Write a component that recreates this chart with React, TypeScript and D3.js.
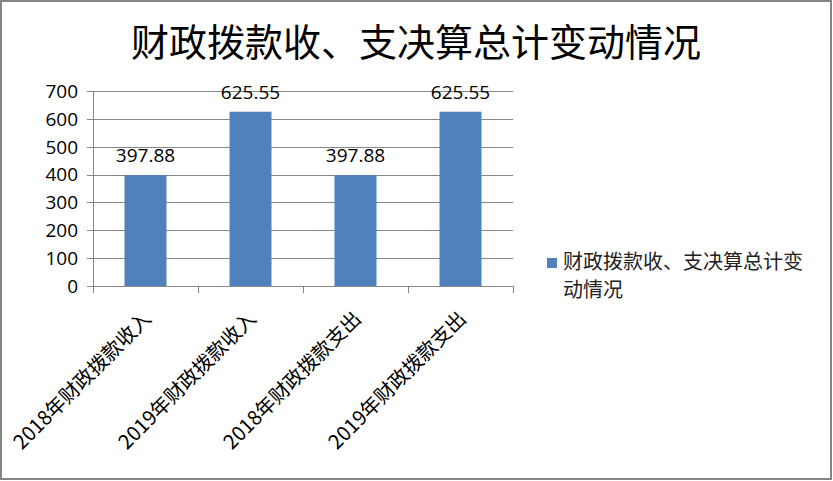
import * as d3 from "d3";
import { useRef, useEffect } from "react";

const title = "财政拨款收、支决算总计变动情况";
const categories = [
  "2018年财政拨款收入",
  "2019年财政拨款收入",
  "2018年财政拨款支出",
  "2019年财政拨款支出",
];
const values = [397.88, 625.55, 397.88, 625.55];
const yTicks = [0, 100, 200, 300, 400, 500, 600, 700];
const legendLines = ["财政拨款收、支决算总计变", "动情况"];

const W = 833;
const H = 481;
const plot = { left: 93, right: 513, top: 91, bottom: 286 };
const barColor = "#4F81BD";
const gridColor = "#868686";
const latin = "'Open Sans', 'Noto Sans', sans-serif";
const cjk = "'Noto Sans CJK SC', sans-serif";

function draw(svgEl: SVGSVGElement | null) {
  const svg = d3.select(svgEl);
  svg.selectAll("*").remove();

  const x = d3
    .scaleBand<string>()
    .domain(categories)
    .range([plot.left, plot.right])
    .paddingInner(0.6)
    .paddingOuter(0.3);
  const y = d3.scaleLinear().domain([0, 700]).range([plot.bottom, plot.top]);

  // outer frame
  svg
    .append("rect")
    .attr("x", 1)
    .attr("y", 1)
    .attr("width", W - 3)
    .attr("height", H - 3)
    .attr("fill", "#fff")
    .attr("stroke", gridColor)
    .attr("stroke-width", 2);

  // title
  svg
    .append("text")
    .attr("x", 416)
    .attr("y", 56)
    .attr("text-anchor", "middle")
    .attr("font-family", cjk)
    .attr("font-size", 38)
    .attr("fill", "#000")
    .text(title);

  // gridlines
  svg
    .append("g")
    .selectAll("line")
    .data(yTicks)
    .join("line")
    .attr("x1", plot.left - 6)
    .attr("x2", plot.right)
    .attr("y1", (d) => Math.round(y(d)) + 0.5)
    .attr("y2", (d) => Math.round(y(d)) + 0.5)
    .attr("stroke", gridColor);

  // y axis line
  svg
    .append("line")
    .attr("x1", plot.left + 0.5)
    .attr("x2", plot.left + 0.5)
    .attr("y1", plot.top)
    .attr("y2", plot.bottom)
    .attr("stroke", gridColor);

  // y tick labels
  svg
    .append("g")
    .selectAll("text")
    .data(yTicks)
    .join("text")
    .attr("x", plot.left - 15)
    .attr("y", (d) => y(d))
    .attr("dy", "0.36em")
    .attr("text-anchor", "end")
    .attr("font-family", latin)
    .attr("font-size", 19)
    .attr("fill", "#000")
    .text((d) => d);

  // category tick marks at band edges
  const edges = [plot.left, ...categories.map((c) => x(c)! + x.step() * 0.7)];
  svg
    .append("g")
    .selectAll("line")
    .data(edges)
    .join("line")
    .attr("x1", (d) => Math.round(d) + 0.5)
    .attr("x2", (d) => Math.round(d) + 0.5)
    .attr("y1", plot.bottom)
    .attr("y2", plot.bottom + 7)
    .attr("stroke", gridColor);

  // bars
  svg
    .append("g")
    .selectAll("rect")
    .data(values)
    .join("rect")
    .attr("x", (_, i) => x(categories[i])!)
    .attr("width", x.bandwidth())
    .attr("y", (d) => y(d))
    .attr("height", (d) => y(0) - y(d))
    .attr("fill", barColor);

  // value labels
  svg
    .append("g")
    .selectAll("text")
    .data(values)
    .join("text")
    .attr("x", (_, i) => x(categories[i])! + x.bandwidth() / 2)
    .attr("y", (d) => y(d) - 13)
    .attr("text-anchor", "middle")
    .attr("font-family", latin)
    .attr("font-size", 19)
    .attr("fill", "#000")
    .text((d) => d.toFixed(2));

  // rotated category labels
  svg
    .append("g")
    .selectAll("text")
    .data(categories)
    .join("text")
    .attr("transform", (d) => {
      const cx = x(d)! + x.bandwidth() / 2 + 7;
      return `translate(${cx},${plot.bottom + 34}) rotate(-45)`;
    })
    .attr("text-anchor", "end")
    .attr("font-family", cjk)
    .attr("font-size", 20)
    .attr("fill", "#000")
    .text((d) => d);

  // legend
  const lg = svg.append("g");
  lg.append("rect")
    .attr("x", 547)
    .attr("y", 258)
    .attr("width", 10)
    .attr("height", 10)
    .attr("fill", barColor);
  lg.selectAll("text")
    .data(legendLines)
    .join("text")
    .attr("x", 563)
    .attr("y", (_, i) => 262 + i * 28)
    .attr("dy", "0.36em")
    .attr("font-family", cjk)
    .attr("font-size", 20)
    .attr("fill", "#222")
    .text((d) => d);
}

const App = () => {
  const ref = useRef<SVGSVGElement | null>(null);

  useEffect(() => {
    draw(ref.current);
  }, []);

  return (
    <svg
      ref={ref}
      width={W}
      height={H}
      style={{ position: "absolute", left: 0, top: 0 }}
    ></svg>
  );
};

export default App;
